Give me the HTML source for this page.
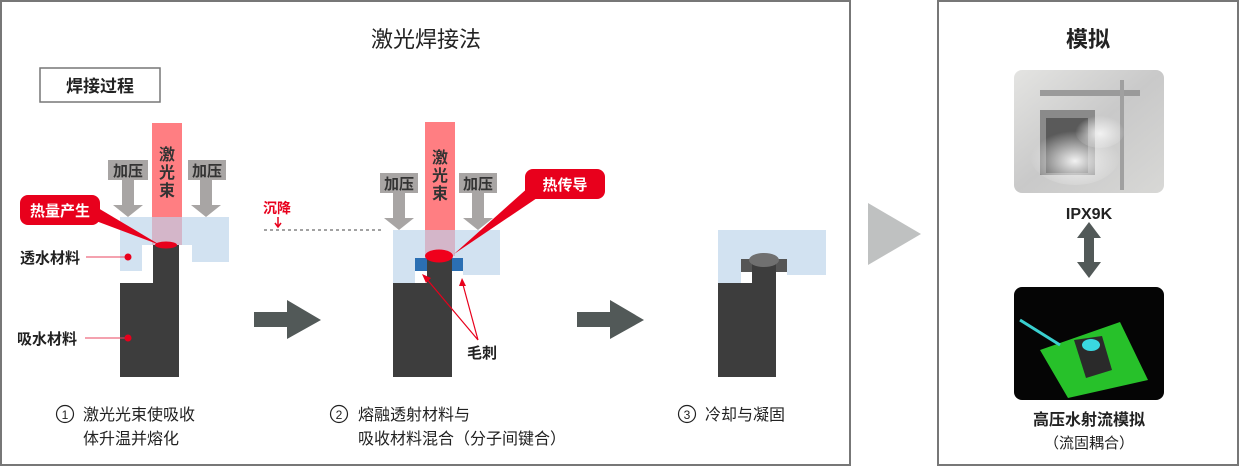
<!DOCTYPE html>
<html><head><meta charset="utf-8"><style>
html,body{margin:0;padding:0;background:#fff;}
svg text{font-family:"Liberation Sans","Noto Sans CJK SC",sans-serif;}
</style></head><body>
<svg width="1240" height="467" viewBox="0 0 1240 467" xmlns="http://www.w3.org/2000/svg">
<defs>
<linearGradient id="ph1" x1="0" y1="0" x2="1" y2="1"><stop offset="0" stop-color="#e4e4e2"/><stop offset="0.5" stop-color="#c9c9c9"/><stop offset="1" stop-color="#d8d8d6"/></linearGradient>
<radialGradient id="mist" cx="0.5" cy="0.6" r="0.5"><stop offset="0" stop-color="#f2f2f2"/><stop offset="1" stop-color="#f2f2f2" stop-opacity="0"/></radialGradient>
</defs>
<rect x="1" y="1" width="849" height="464" fill="none" stroke="#777" stroke-width="2"/>
<rect x="938" y="1" width="300" height="464" fill="none" stroke="#777" stroke-width="2"/>
<text x="426" y="47" font-size="22" text-anchor="middle" fill="#222">激光焊接法</text>
<text x="1088" y="47" font-size="22" text-anchor="middle" fill="#222" font-weight="bold">模拟</text>
<rect x="40" y="68" width="120" height="34" fill="#fff" stroke="#777" stroke-width="1.5"/>
<text x="100" y="92" font-size="17" font-weight="bold" text-anchor="middle" fill="#222">焊接过程</text>

<!-- Stage 1 -->
<path d="M120 217 H229 V262 H192 V245 H142 V271 H120 Z" fill="#d2e2f1"/>
<path d="M153 245 H179 V377 H120 V283 H153 Z" fill="#3d3d3d"/>
<rect x="152" y="123" width="30" height="122" fill="#ff7e82"/>
<rect x="152" y="217" width="30" height="28" fill="#d4b6c9"/>
<ellipse cx="166" cy="245" rx="11" ry="3.5" fill="#e8001c"/>
<rect x="108" y="160" width="40" height="20" fill="#a8a5a4"/>
<text x="128" y="176" font-size="15" font-weight="bold" text-anchor="middle" fill="#333">加压</text>
<path d="M122 180 H134 V205 H143 L128 217 L113 205 H122 Z" fill="#a8a5a4"/>
<rect x="188" y="160" width="38" height="20" fill="#a8a5a4"/>
<text x="207" y="176" font-size="15" font-weight="bold" text-anchor="middle" fill="#333">加压</text>
<path d="M200 180 H212 V205 H221 L206 217 L191 205 H200 Z" fill="#a8a5a4"/>
<text x="167" y="160" font-size="16" font-weight="bold" text-anchor="middle" fill="#333">激</text>
<text x="167" y="178" font-size="16" font-weight="bold" text-anchor="middle" fill="#333">光</text>
<text x="167" y="196" font-size="16" font-weight="bold" text-anchor="middle" fill="#333">束</text>
<rect x="20" y="195" width="80" height="30" rx="8" fill="#e8001c"/>
<path d="M88 218 L98 208 L160 245 Z" fill="#e8001c"/>
<text x="60" y="216" font-size="15" font-weight="bold" text-anchor="middle" fill="#fff">热量产生</text>
<text x="20" y="263" font-size="15" font-weight="bold" fill="#222">透水材料</text>
<line x1="86" y1="257" x2="128" y2="257" stroke="#e8455f" stroke-width="1"/>
<circle cx="128" cy="257" r="3.5" fill="#e8001c"/>
<text x="17" y="344" font-size="15" font-weight="bold" fill="#222">吸水材料</text>
<line x1="85" y1="338" x2="128" y2="338" stroke="#e8455f" stroke-width="1"/>
<circle cx="128" cy="338" r="3.5" fill="#e8001c"/>

<!-- arrows -->
<path d="M254 312 H287 V300 L321 320 L287 339 V327 H254 Z" fill="#525958"/>
<path d="M577 312 H610 V300 L644 320 L610 339 V327 H577 Z" fill="#525958"/>

<!-- Stage 2 -->
<line x1="264" y1="230" x2="382" y2="230" stroke="#444" stroke-dasharray="3,3" stroke-width="1"/>
<text x="263" y="213" font-size="14" font-weight="bold" fill="#e8001c">沉降</text>
<path d="M278 217 V226 M275 223 L278 227 L281 223" stroke="#e8001c" stroke-width="1.5" fill="none"/>
<path d="M393 230 H500 V275 H463 V258 H415 V283 H393 Z" fill="#d2e2f1"/>
<path d="M427 255 H452 V377 H393 V283 H427 Z" fill="#3d3d3d"/>
<rect x="415" y="258" width="12" height="13" fill="#2b6fb3"/>
<rect x="452" y="258" width="11" height="13" fill="#2b6fb3"/>
<rect x="425" y="122" width="30" height="108" fill="#ff7e82"/>
<rect x="425" y="230" width="30" height="26" fill="#d4b6c9"/>
<ellipse cx="439" cy="256" rx="14" ry="6.5" fill="#f0001c"/>
<rect x="380" y="173" width="38" height="20" fill="#a8a5a4"/>
<text x="399" y="189" font-size="15" font-weight="bold" text-anchor="middle" fill="#333">加压</text>
<path d="M393 193 H405 V218 H414 L399 230 L384 218 H393 Z" fill="#a8a5a4"/>
<rect x="459" y="173" width="38" height="20" fill="#a8a5a4"/>
<text x="478" y="189" font-size="15" font-weight="bold" text-anchor="middle" fill="#333">加压</text>
<path d="M472 193 H484 V218 H493 L478 230 L463 218 H472 Z" fill="#a8a5a4"/>
<text x="440" y="163" font-size="16" font-weight="bold" text-anchor="middle" fill="#333">激</text>
<text x="440" y="181" font-size="16" font-weight="bold" text-anchor="middle" fill="#333">光</text>
<text x="440" y="199" font-size="16" font-weight="bold" text-anchor="middle" fill="#333">束</text>
<rect x="525" y="169" width="80" height="30" rx="8" fill="#e8001c"/>
<path d="M530 186 L540 196 L454 254 Z" fill="#e8001c"/>
<text x="565" y="190" font-size="15" font-weight="bold" text-anchor="middle" fill="#fff">热传导</text>
<path d="M478 340 L425 277 M478 340 L462 281" stroke="#e8001c" stroke-width="1.2" fill="none"/>
<path d="M422 274 L431 278 L426 283 Z M462 278 L466 286 L459 286 Z" fill="#e8001c"/>
<text x="467" y="358" font-size="15" font-weight="bold" fill="#222">毛刺</text>

<!-- Stage 3 -->
<path d="M718 230 H826 V275 H787 V260 H741 V283 H718 Z" fill="#d2e2f1"/>
<path d="M752 263 H776 V377 H718 V283 H752 Z" fill="#3d3d3d"/>
<rect x="741" y="259" width="11" height="13" fill="#555"/>
<rect x="776" y="259" width="11" height="13" fill="#555"/>
<ellipse cx="764" cy="260" rx="15" ry="7" fill="#707070"/>

<!-- captions -->
<g font-size="16" fill="#222">
<circle cx="65" cy="414" r="8.5" fill="none" stroke="#222" stroke-width="1.2"/><text x="65" y="419" font-size="12" text-anchor="middle">1</text>
<text x="83" y="420">激光光束使吸收</text>
<text x="83" y="444">体升温并熔化</text>
<circle cx="339" cy="414" r="8.5" fill="none" stroke="#222" stroke-width="1.2"/><text x="339" y="419" font-size="12" text-anchor="middle">2</text>
<text x="358" y="420">熔融透射材料与</text>
<text x="358" y="444">吸收材料混合（分子间键合）</text>
<circle cx="687" cy="414" r="8.5" fill="none" stroke="#222" stroke-width="1.2"/><text x="687" y="419" font-size="12" text-anchor="middle">3</text>
<text x="705" y="420">冷却与凝固</text>
</g>

<!-- big triangle -->
<path d="M868 203 L921 234 L868 265 Z" fill="#bfc1c1"/>

<!-- right photos -->
<rect x="1014" y="70" width="150" height="123" rx="8" fill="url(#ph1)"/>
<rect x="1040" y="110" width="55" height="65" fill="#8a8a8a"/>
<rect x="1046" y="118" width="42" height="55" fill="#5a5a5a"/>
<rect x="1040" y="90" width="100" height="6" fill="#9a9a9a"/>
<rect x="1120" y="80" width="4" height="110" fill="#a0a0a0"/>
<ellipse cx="1075" cy="155" rx="45" ry="30" fill="url(#mist)"/>
<ellipse cx="1100" cy="130" rx="25" ry="18" fill="url(#mist)"/>
<rect x="1014" y="287" width="150" height="113" rx="8" fill="#050505"/>
<path d="M1040 350 L1120 322 L1148 380 L1068 398 Z" fill="#27c12a"/>
<path d="M1020 320 L1060 345" stroke="#3ad0d0" stroke-width="3"/>
<path d="M1074 340 L1102 336 L1112 370 L1086 378 Z" fill="#2a2a2a"/>
<ellipse cx="1091" cy="345" rx="9" ry="6" fill="#3ad8e0"/>
<text x="1089" y="219" font-size="16" font-weight="bold" text-anchor="middle" fill="#222">IPX9K</text>
<path d="M1089 222 L1101 238 H1094 V262 H1101 L1089 278 L1077 262 H1084 V238 H1077 Z" fill="#525958"/>
<text x="1089" y="425" font-size="16" font-weight="bold" text-anchor="middle" fill="#222">高压水射流模拟</text>
<text x="1089" y="448" font-size="15" text-anchor="middle" fill="#222">（流固耦合）</text>
</svg>
</body></html>
